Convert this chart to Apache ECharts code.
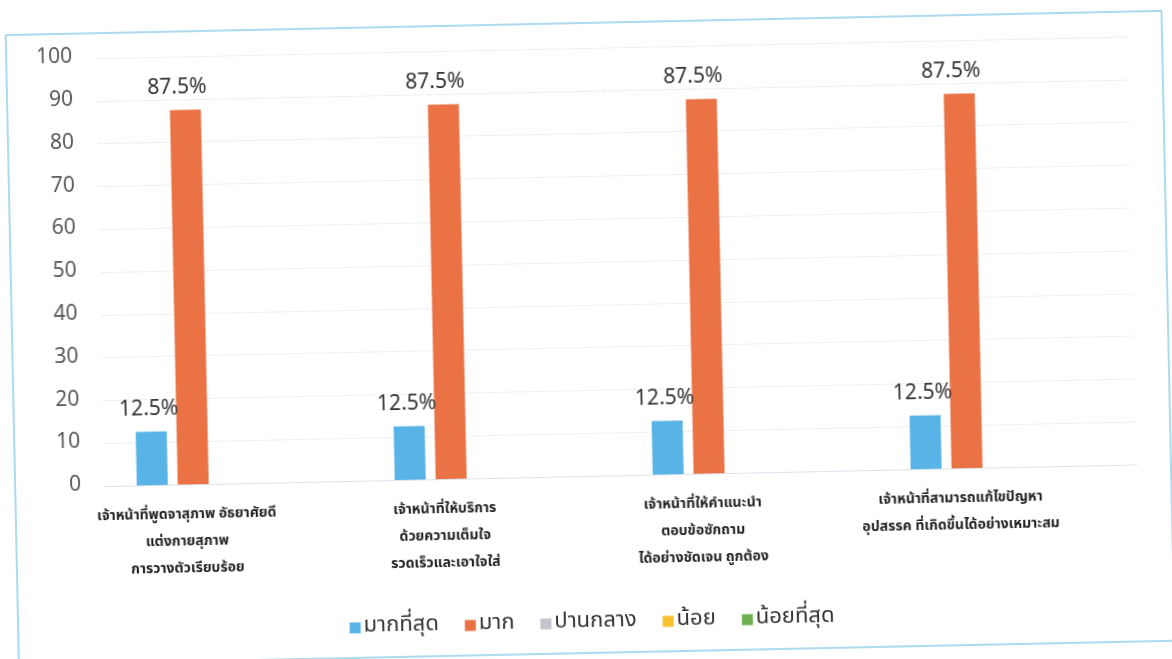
<!DOCTYPE html>
<html>
<head>
<meta charset="utf-8">
<script src="https://cdn.jsdelivr.net/npm/echarts@6/dist/echarts.min.js"></script>
<style>
html,body{margin:0;padding:0;background:#fff;overflow:hidden;}
#c{width:1172px;height:659px;transform:rotate(-1.2deg);transform-origin:586px 330px;}
</style>
</head>
<body>
<div id="c"></div>
<script>
const categories = [
  'เจ้าหน้าที่พูดจาสุภาพ อัธยาศัยดี\nแต่งกายสุภาพ\nการวางตัวเรียบร้อย',
  'เจ้าหน้าที่ให้บริการ\nด้วยความเต็มใจ\nรวดเร็วและเอาใจใส่',
  'เจ้าหน้าที่ให้คำแนะนำ\nตอบข้อซักถาม\nได้อย่างชัดเจน ถูกต้อง',
  'เจ้าหน้าที่สามารถแก้ไขปัญหา\nอุปสรรค ที่เกิดขึ้นได้อย่างเหมาะสม'
];
const seriesNames = ['มากที่สุด', 'มาก', 'ปานกลาง', 'น้อย', 'น้อยที่สุด'];
const mostValues = [12.5, 12.5, 12.5, 12.5];
const muchValues = [87.5, 87.5, 87.5, 87.5];
const mediumValues = ['-', '-', '-', '-'];
const littleValues = ['-', '-', '-', '-'];
const leastValues = ['-', '-', '-', '-'];
const yTicks = [0, 10, 20, 30, 40, 50, 60, 70, 80, 90, 100];

const colors = ['#58B4E6', '#EA7245', '#C4C4CC', '#F6C02C', '#6DB052'];
const FONT = '"Noto Sans Thai","Noto Sans","Open Sans",sans-serif';
const allData = [mostValues, muchValues, mediumValues, littleValues, leastValues];

const chart = echarts.init(document.getElementById('c'), null, {renderer: 'canvas'});
chart.setOption({
  animation: false,
  color: colors,
  textStyle: {fontFamily: FONT},
  graphic: [{
    type: 'rect',
    shape: {x: 12, y: 23, width: 1156, height: 630},
    style: {fill: 'none', stroke: '#8fd0ea', lineWidth: 1.5},
    z: -1
  }],
  grid: {left: 102, right: 38, top: 48, bottom: 183, containLabel: false},
  legend: {
    bottom: 20,
    left: 'center',
    itemWidth: 11,
    itemHeight: 11,
    itemGap: 26,
    icon: 'rect',
    textStyle: {fontSize: 22, color: '#333', fontFamily: FONT, padding: [0, 0, 0, -2]},
    data: seriesNames
  },
  xAxis: {
    type: 'category',
    data: categories,
    axisTick: {show: false},
    axisLine: {show: true, lineStyle: {color: '#dde2ea', width: 1}},
    axisLabel: {
      interval: 0,
      margin: 18,
      fontSize: 14,
      fontWeight: 'bold',
      color: '#222',
      lineHeight: 27,
      fontFamily: FONT,
      padding: [0, 96, 0, 0]
    }
  },
  yAxis: {
    type: 'value',
    min: 0,
    max: 100,
    interval: 10,
    axisLine: {show: false},
    axisTick: {show: false},
    axisLabel: {
      fontSize: 21,
      color: '#595959',
      margin: 24,
      fontFamily: FONT,
      formatter: v => yTicks.includes(v) ? String(v) : ''
    },
    splitLine: {lineStyle: {color: '#dde2ea', width: 1, type: 'dotted'}}
  },
  series: seriesNames.map((name, i) => ({
    name: name,
    type: 'bar',
    data: allData[i],
    barWidth: 31,
    barGap: '32%',
    label: {
      show: i < 2,
      position: 'top',
      distance: 10,
      offset: i === 1 ? [-8, 0] : [-2, 0],
      fontSize: 21,
      color: '#333',
      fontFamily: FONT,
      formatter: p => p.value + '%'
    }
  }))
});
</script>
</body>
</html>
